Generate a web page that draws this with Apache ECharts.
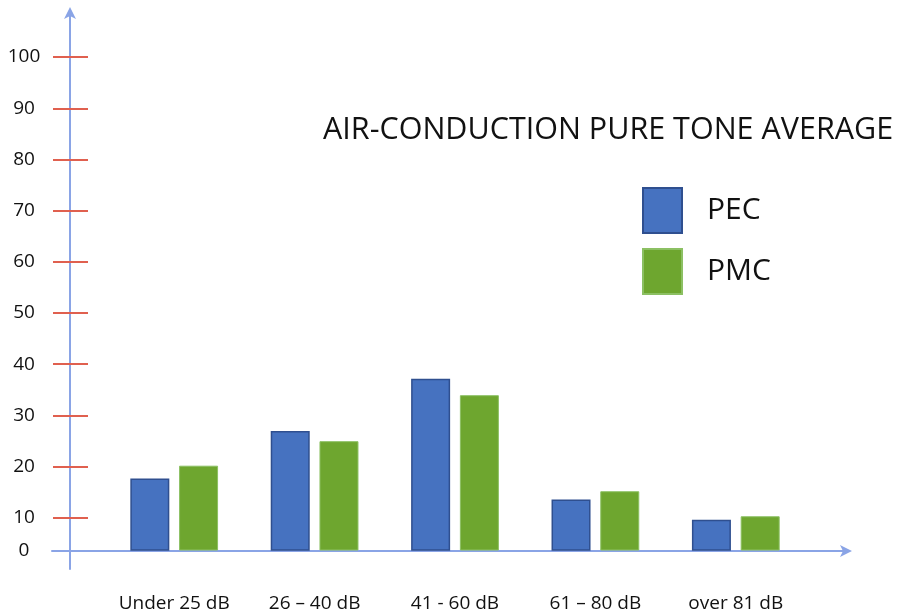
<!DOCTYPE html>
<html>
<head>
<meta charset="utf-8">
<script src="https://cdn.jsdelivr.net/npm/echarts@6/dist/echarts.min.js"></script>
<style>
  html, body { margin: 0; padding: 0; background: #ffffff; }
  #chart { width: 906px; height: 613px; }
</style>
</head>
<body>
<div id="chart"></div>
<script>
// Hearing-loss bands on the category axis
const categories = ['Under 25 dB', '26 – 40 dB', '41 - 60 dB', '61 – 80 dB', 'over 81 dB'];
// Share of patients per band (%)
const pecValues = [17.5, 26.8, 37.0, 13.4, 9.4];
const pmcValues = [20.0, 24.8, 33.8, 15.0, 10.1];
// Vertical scale ticks
const yTickValues = [0, 10, 20, 30, 40, 50, 60, 70, 80, 90, 100];
const yTickLabels = ['0', '10', '20', '30', '40', '50', '60', '70', '80', '90', '100'];
const titleText = 'AIR-CONDUCTION PURE TONE AVERAGE';

// The category axis crosses the vertical scale a little above zero,
// so the "0" label sits on that crossing line.
const axisCrossing = 3.5;
const scaleMax = 109;

const labelPositions = yTickValues.map(v => Math.max(v, axisCrossing));
const tickPositions = yTickValues.filter(v => v > 0);

const axisBlue = '#8aa4e6';
const tickRed = '#e0604f';
const font = '"Open Sans", "Liberation Sans", sans-serif';

const chart = echarts.init(document.getElementById('chart'), null, { renderer: 'canvas' });

chart.setOption({
  animation: false,
  backgroundColor: '#ffffff',
  title: {
    text: titleText,
    left: 323,
    top: 115,
    padding: 0,
    textStyle: { fontFamily: font, fontSize: 30.5, fontWeight: 'normal', color: '#111111' }
  },
  legend: {
    orient: 'vertical',
    left: 642,
    top: 187,
    padding: 0,
    itemWidth: 39,
    itemHeight: 45,
    itemGap: 14,
    icon: 'rect',
    textStyle: { fontFamily: font, fontSize: 30, color: '#111111', padding: [0, 0, 0, 20] },
    data: ['PEC', 'PMC']
  },
  grid: [
    // frame grid: carries the arrowed axis lines and the tick scale
    { left: 52, right: 58, top: 11, bottom: 44, containLabel: false },
    // plot grid: carries the bars, its floor is the category axis line
    { left: 104, right: 100, top: 11, bottom: 62, containLabel: false }
  ],
  xAxis: [
    {
      gridIndex: 0, type: 'value', min: 0, max: 1, position: 'bottom', offset: -18,
      axisLine: { show: true, lineStyle: { color: axisBlue, width: 2 }, symbol: ['none', 'arrow'], symbolSize: [9, 12], symbolOffset: [0, 4] },
      axisTick: { show: false }, axisLabel: { show: false }, splitLine: { show: false }
    },
    {
      gridIndex: 1, type: 'category', data: categories,
      axisLine: { show: false }, axisTick: { show: false }, splitLine: { show: false },
      axisLabel: { interval: 0, hideOverlap: false, margin: 44, fontFamily: font, fontSize: 19, color: '#111111' }
    }
  ],
  yAxis: [
    {
      // arrowed vertical line
      gridIndex: 0, type: 'value', min: 0, max: scaleMax, position: 'left', offset: -18,
      axisLine: { show: true, onZero: false, lineStyle: { color: axisBlue, width: 2 }, symbol: ['none', 'arrow'], symbolSize: [9, 12], symbolOffset: [0, 4] },
      axisTick: { show: false }, axisLabel: { show: false }, splitLine: { show: false }
    },
    {
      // red tick marks crossing the vertical line, with their labels
      gridIndex: 0, type: 'value', min: 0, max: scaleMax, position: 'left', offset: -36,
      axisLine: { show: false },
      axisTick: { show: true, inside: false, length: 35, customValues: tickPositions, lineStyle: { color: tickRed, width: 2 } },
      axisLabel: {
        show: true, margin: 64, align: 'center', customValues: labelPositions,
        fontFamily: font, fontSize: 19, color: '#111111',
        formatter: (val) => {
          const i = labelPositions.findIndex(p => Math.abs(p - val) < 1e-6);
          return i >= 0 ? yTickLabels[i] : '';
        }
      },
      splitLine: { show: false }
    },
    {
      // scale for the bars, starting at the category axis line
      gridIndex: 1, type: 'value', min: axisCrossing, max: scaleMax, show: false,
      splitLine: { show: false }
    }
  ],
  series: [
    {
      name: 'PEC', type: 'bar', xAxisIndex: 1, yAxisIndex: 2,
      data: pecValues, barWidth: 39, barGap: '25%', clip: true,
      itemStyle: { color: '#4672c0', borderColor: '#2f4f8f', borderWidth: 1.5 }
    },
    {
      name: 'PMC', type: 'bar', xAxisIndex: 1, yAxisIndex: 2,
      data: pmcValues, barWidth: 39, barGap: '25%', clip: true,
      itemStyle: { color: '#6ea62f', borderColor: '#8cc063', borderWidth: 1 }
    }
  ]
});
</script>
</body>
</html>
